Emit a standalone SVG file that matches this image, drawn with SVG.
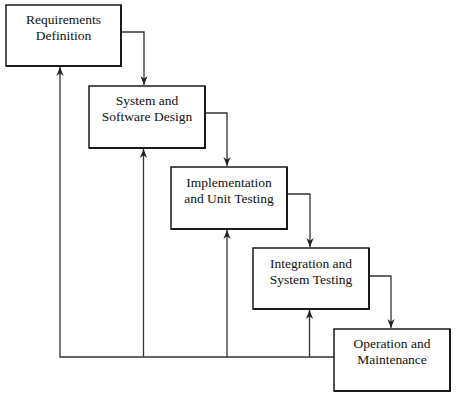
<svg xmlns="http://www.w3.org/2000/svg" width="459" height="400" viewBox="0 0 459 400">
<style>
.box{fill:#fff;stroke:#1a1a1a;stroke-width:1.5}
.sh{fill:none;stroke:#1a1a1a;stroke-width:2}
.lbl{font-family:"Liberation Serif","Times New Roman",serif;font-size:13.5px;fill:#111;text-anchor:middle}
.c{fill:none;stroke:#333;stroke-width:1.3}
</style>
<defs>
<marker id="ah" viewBox="0 0 10 10" refX="10" refY="5" markerWidth="9" markerHeight="9" markerUnits="userSpaceOnUse" orient="auto">
<path d="M0,1 L10,5 L0,9 L3,5 Z" fill="#222"/>
</marker>
</defs>
<rect width="459" height="400" fill="#fff"/>
<g id="connectors">
<path class="c" d="M121,32 H144 V85" marker-end="url(#ah)"/>
<path class="c" d="M205,113 H227 V166" marker-end="url(#ah)"/>
<path class="c" d="M287,194 H310 V247" marker-end="url(#ah)"/>
<path class="c" d="M369,276 H391 V328" marker-end="url(#ah)"/>
<path class="c" d="M334,357 H60 V67" marker-end="url(#ah)"/>
<path class="c" d="M143.5,357 V149" marker-end="url(#ah)"/>
<path class="c" d="M227,357 V230" marker-end="url(#ah)"/>
<path class="c" d="M309.5,357 V310" marker-end="url(#ah)"/>
</g>
<g id="n1">
<rect class="box" x="6" y="5" width="115" height="61"/>
<path class="sh" d="M121,5 V66 H6"/>
<text class="lbl" x="63.5" y="23.5">Requirements</text>
<text class="lbl" x="63.5" y="39.5">Definition</text>
</g>
<g id="n2">
<rect class="box" x="89" y="86" width="116" height="62"/>
<path class="sh" d="M205,86 V148 H89"/>
<text class="lbl" x="147" y="105">System and</text>
<text class="lbl" x="147" y="121">Software Design</text>
</g>
<g id="n3">
<rect class="box" x="171" y="167" width="116" height="62"/>
<path class="sh" d="M287,167 V229 H171"/>
<text class="lbl" x="229" y="187">Implementation</text>
<text class="lbl" x="229" y="203">and Unit Testing</text>
</g>
<g id="n4">
<rect class="box" x="253" y="248" width="116" height="61"/>
<path class="sh" d="M369,248 V309 H253"/>
<text class="lbl" x="311" y="267.5">Integration and</text>
<text class="lbl" x="311" y="283.5">System Testing</text>
</g>
<g id="n5">
<rect class="box" x="334" y="329" width="116" height="62"/>
<path class="sh" d="M450,329 V391 H334"/>
<text class="lbl" x="392" y="347.5">Operation and</text>
<text class="lbl" x="392" y="364">Maintenance</text>
</g>
</svg>
